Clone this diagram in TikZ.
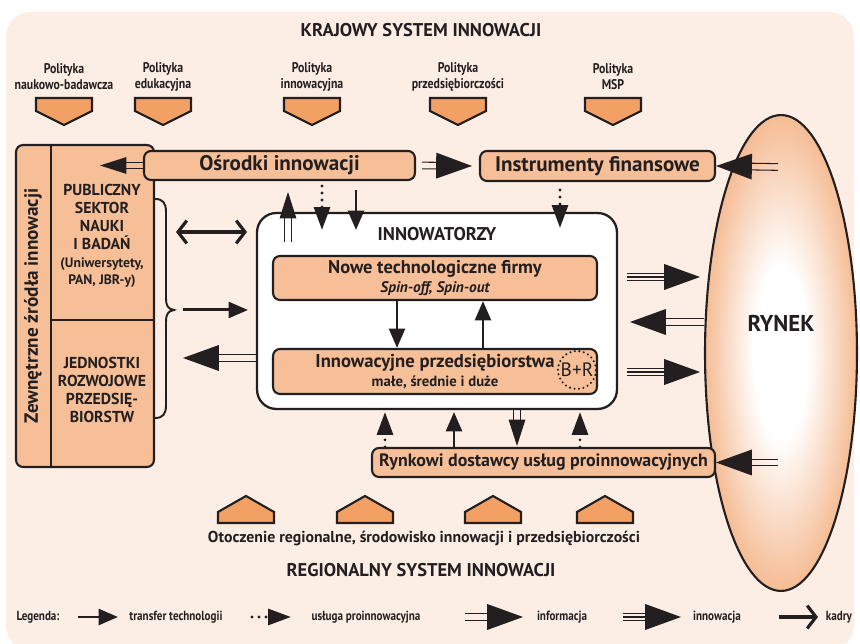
\documentclass[tikz,border=0pt]{standalone}
\usepackage{fontspec}
\setmainfont{PT Sans}
\newfontfamily\narrowfont[FakeStretch=0.84]{PT Sans}
\usetikzlibrary{arrows.meta,decorations.markings,shapes.geometric}

\definecolor{ink}{HTML}{231F20}
\definecolor{bgpeach}{HTML}{FCEEE5}
\definecolor{boxfill}{HTML}{F6BF98}
\definecolor{penta}{HTML}{F2A064}
\definecolor{ryfill}{HTML}{F5BC94}

\pgfdeclareradialshading{rynekshade}{\pgfpoint{0bp}{0bp}}{color(0bp)=(white); color(9bp)=(white); color(25bp)=(ryfill); color(50bp)=(ryfill)}

\tikzset{
  box/.style={draw=ink, fill=boxfill, line width=1.2pt, rounded corners=4pt, inner sep=0pt, text=ink},
  boxtext/.style={font=\bfseries\fontsize{12}{14}\selectfont},
  policy/.style={font=\narrowfont\bfseries\fontsize{8}{9.2}\selectfont, align=center, text=ink},
  legtext/.style={font=\narrowfont\bfseries\fontsize{7.5}{9}\selectfont, text=ink},
  caps/.style={font=\bfseries\fontsize{9}{10.2}\selectfont, align=center, text=ink},
  heading/.style={font=\bfseries\fontsize{10.5}{12}\selectfont, text=ink},
  pentagon/.style={draw=ink, fill=penta, line width=1.2pt},
  transfer/.style={draw=ink, line width=1.7pt, -{Triangle[length=11pt,width=9pt]}},
  usluga/.style={draw=ink, line width=1.8pt, line cap=round, dash pattern=on 0pt off 4pt, -{Triangle[length=13pt,width=9pt]}},
  kadry/.style={draw=ink, line width=1.8pt, -{Straight Barb[length=5pt,width=13pt]}},
  tipmark/.style 2 args={postaction={decorate}, decoration={markings, mark=at position 1 with {\fill[ink] (0pt,0pt) -- (-#1,#2) -- (-#1,-#2) -- cycle;}}},
  bigtip/.style={tipmark={20.4pt}{7.4pt}},
  smalltip/.style={tipmark={15pt}{4.8pt}},
  thin/.style={draw=ink, line width=0.6pt, shorten >=12pt},
  hlines/.style={preaction={thin, transform canvas={yshift=1.9pt}}, preaction={thin, transform canvas={yshift=-1.9pt}}},
  vlines/.style={preaction={thin, transform canvas={xshift=1.9pt}}, preaction={thin, transform canvas={xshift=-1.9pt}}},
  infoh/.style={hlines, bigtip},
  infov/.style={vlines, smalltip},
  innovh/.style={hlines, preaction={thin}, bigtip},
}

\begin{document}
\begin{tikzpicture}[x=0.02cm, y=-0.02cm]
  \useasboundingbox (0,0) rectangle (860,644);
  \fill[bgpeach, rounded corners=14pt] (6,12) rectangle (854,650);

  \node[heading] (krajowy) at (421,30) {KRAJOWY SYSTEM INNOWACJI};

  % polityki
  \foreach \cx/\txt [count=\i] in {64/naukowo-badawcza, 163/edukacyjna, 312/innowacyjna, 458/przedsiębiorczości, 613/MSP}{
    \node[policy] (pol\i) at (\cx,77) {Polityka\\\txt};
    \filldraw[pentagon] (\cx-28,98) -- (\cx+28,98) -- (\cx+28,111) -- (\cx,125) -- (\cx-28,111) -- cycle;
  }

  % rynek
  \node[ellipse, draw=ink, line width=1.2pt, shade, shading=rynekshade, minimum width=3.04cm, minimum height=9.52cm, inner sep=0pt] (rynek) at (781,353) {};
  \node[font=\bfseries\fontsize{13}{15}\selectfont, text=ink] (ryneklab) at (781,323) {RYNEK};

  % zewnetrzne zrodla
  \node[box, minimum width=2.76cm, minimum height=6.44cm] (lcol) at (85,306) {};
  \draw[ink, line width=1.2pt] (51,145) -- (51,467);
  \draw[ink, line width=1.2pt] (51,320) -- (154,320);
  \node[rotate=90, font=\bfseries\fontsize{10.9}{12}\selectfont, text=ink] (zew) at (33,306) {Zewnętrzne źródła innowacji};
  \node[caps] (pub) at (102,217) {PUBLICZNY\\SEKTOR\\NAUKI\\I BADAŃ};
  \node[caps, font=\bfseries\fontsize{7.8}{9.6}\selectfont] (pubsmall) at (102,273) {(Uniwersytety,\\PAN, JBR-y)};
  \node[caps] (jed) at (102,390) {JEDNOSTKI\\ROZWOJOWE\\PRZEDSIĘ-\\BIORSTW};
  \draw[ink, line width=1.1pt] (155,199) .. controls (163,199) and (166,203) .. (166,212) -- (166,298)
    .. controls (166,306) and (168,309) .. (174,310) .. controls (168,311) and (166,314) .. (166,322)
    -- (166,405) .. controls (166,414) and (163,418) .. (155,418);

  % osrodki, instrumenty
  \node[box, boxtext, minimum width=5.42cm, minimum height=0.58cm] (osr) at (279.5,165.5) {Ośrodki innowacji};
  \node[box, boxtext, minimum width=4.7cm, minimum height=0.6cm] (ins) at (597.5,166) {Instrumenty finansowe};

  % innowatorzy
  \node[draw=ink, fill=white, line width=1.3pt, rounded corners=11pt, minimum width=7.2cm, minimum height=3.92cm] (innow) at (437,311) {};
  \node[heading] (innlab) at (437,234) {INNOWATORZY};
  \node[box, align=center, minimum width=6.48cm, minimum height=0.88cm] (nowe) at (435,278)
    {{\bfseries\fontsize{10.5}{11}\selectfont Nowe technologiczne firmy}\\[-1pt]{\bfseries\itshape\fontsize{8.7}{9}\selectfont Spin-off, Spin-out}};
  \node[box, align=center, minimum width=6.48cm, minimum height=0.9cm] (innp) at (435,371.5)
    {{\bfseries\fontsize{10.6}{11}\selectfont Innowacyjne przedsiębiorstwa}\\[-1pt]{\bfseries\fontsize{8.4}{9}\selectfont małe, średnie i duże}};
  \node[circle, draw=ink, line width=1.3pt, line cap=round, dash pattern=on 0pt off 2.6pt, minimum size=0.76cm, inner sep=0pt, font=\fontsize{11}{12}\selectfont, text=ink] (br) at (577,370) {B+R};

  \node[box, font=\bfseries\fontsize{10.2}{12}\selectfont, minimum width=6.86cm, minimum height=0.58cm] (rd) at (543.5,462.5) {Rynkowi dostawcy usług proinnowacyjnych};

  % otoczenie
  \foreach \cx in {246,365,493,605}{
    \filldraw[pentagon] (\cx-28,523) -- (\cx+28,523) -- (\cx+28,512) -- (\cx,496) -- (\cx-28,512) -- cycle;
  }
  \node[font=\bfseries\fontsize{9}{10}\selectfont, text=ink] (otocz) at (424,538) {Otoczenie regionalne, środowisko innowacji i przedsiębiorczości};
  \node[heading] (regional) at (421,570) {REGIONALNY SYSTEM INNOWACJI};

  % punkty strzalek
  \coordinate (tA) at (100,165.5);
  \coordinate (tB) at (472,166);
  \coordinate (sC) at (778,167);
  \coordinate (sD) at (778,462.5);
  \coordinate (sE) at (288,242);
  \coordinate (tE) at (288,192);
  \coordinate (sF) at (322,186);
  \coordinate (tF) at (322,230);
  \coordinate (sG) at (356,190);
  \coordinate (tG) at (356,230);
  \coordinate (sH) at (560,190);
  \coordinate (tH) at (560,228);
  \coordinate (kA) at (176,232);
  \coordinate (kB) at (247,232);
  \coordinate (sJ) at (183,310);
  \coordinate (tJ) at (248,310);
  \coordinate (tK) at (183,358);
  \coordinate (xL) at (397,0);
  \coordinate (xM) at (483,0);
  \coordinate (sN) at (627,277);
  \coordinate (tN) at (700,277);
  \coordinate (tO) at (630,322);
  \coordinate (sP) at (627,372);
  \coordinate (tP) at (700,372);
  \coordinate (tQ) at (385,412);
  \coordinate (tR) at (454,412);
  \coordinate (tS) at (517,446);
  \coordinate (tT) at (580,412);

  % strzalki
  \path[hlines, smalltip] (osr.west) -- (tA);
  \path[infoh] ([xshift=3.4pt]osr.east) -- (tB);
  \path[infoh] (sC) -- (ins.east);
  \path[infoh] (sD) -- (rd.east);
  \path[infov] (sE) -- (tE);
  \draw[usluga] (sF) -- (tF);
  \draw[transfer] (sG) -- (tG);
  \draw[usluga] (sH) -- (tH);
  \draw[kadry, {Straight Barb[length=5pt,width=13pt]}-{Straight Barb[length=5pt,width=13pt]}] (kA) -- (kB);
  \draw[transfer] (sJ) -- (tJ);
  \path[infoh] (innow.west |- tK) -- (tK);
  \draw[transfer] (nowe.south -| xL) -- (innp.north -| xL);
  \draw[transfer] (innp.north -| xM) -- (nowe.south -| xM);
  \path[innovh] (sN) -- (tN);
  \path[infoh] (rynek.west |- tO) -- (tO);
  \path[innovh] (sP) -- (tP);
  \draw[usluga] (rd.north -| tQ) -- (tQ);
  \draw[transfer] (rd.north -| tR) -- (tR);
  \path[infov] (innow.south -| tS) -- (tS);
  \draw[usluga] (rd.north -| tT) -- (tT);

  % legenda
  \node[legtext] (leg) at (38,617) {Legenda:};
  \coordinate (lg1a) at (78,617);
  \coordinate (lg1b) at (118,617);
  \coordinate (lg2a) at (252,617);
  \coordinate (lg2b) at (291,617);
  \coordinate (lg3a) at (465,617);
  \coordinate (lg3b) at (523,617);
  \coordinate (lg4a) at (623,617);
  \coordinate (lg4b) at (681,617);
  \coordinate (lg5a) at (779,617);
  \coordinate (lg5b) at (818,617);
  \draw[transfer] (lg1a) -- (lg1b);
  \node[legtext] (leg1) at (176,617) {transfer technologii};
  \draw[usluga] (lg2a) -- (lg2b);
  \node[legtext] (leg2) at (366,617) {usługa proinnowacyjna};
  \path[infoh] (lg3a) -- (lg3b);
  \node[legtext] (leg3) at (562,617) {informacja};
  \path[innovh] (lg4a) -- (lg4b);
  \node[legtext] (leg4) at (717,617) {innowacja};
  \draw[kadry] (lg5a) -- (lg5b);
  \node[legtext] (leg5) at (839,617) {kadry};
\end{tikzpicture}
\end{document}
